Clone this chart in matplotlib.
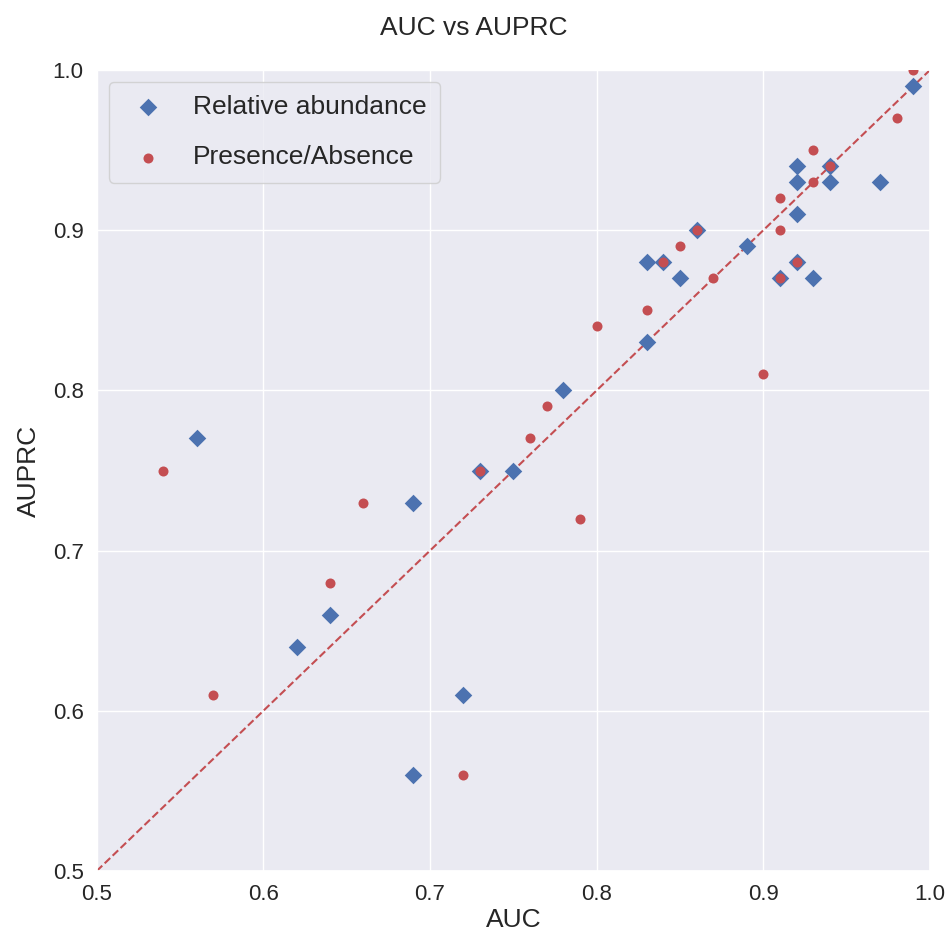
import matplotlib
matplotlib.use("Agg")
import matplotlib.pyplot as plt
import seaborn as sns

sns.set_theme(style="darkgrid")
plt.rcParams['font.family'] = ['Liberation Sans', 'DejaVu Sans']

# Relative abundance models
ra_auc = [0.56, 0.62, 0.64, 0.69, 0.69, 0.72, 0.73, 0.75, 0.78, 0.83,
          0.83, 0.84, 0.85, 0.86, 0.89, 0.91, 0.92, 0.92, 0.92, 0.92,
          0.93, 0.94, 0.94, 0.97, 0.99]
ra_auprc = [0.77, 0.64, 0.66, 0.73, 0.56, 0.61, 0.75, 0.75, 0.80, 0.88,
            0.83, 0.88, 0.87, 0.90, 0.89, 0.87, 0.94, 0.93, 0.91, 0.88,
            0.87, 0.94, 0.93, 0.93, 0.99]

# Presence/absence models
pa_auc = [0.54, 0.57, 0.64, 0.66, 0.72, 0.73, 0.76, 0.77, 0.79, 0.80,
          0.83, 0.84, 0.85, 0.86, 0.87, 0.90, 0.91, 0.91, 0.91, 0.92,
          0.93, 0.93, 0.94, 0.98, 0.99]
pa_auprc = [0.75, 0.61, 0.68, 0.73, 0.56, 0.75, 0.77, 0.79, 0.72, 0.84,
            0.85, 0.88, 0.89, 0.90, 0.87, 0.81, 0.92, 0.90, 0.87, 0.88,
            0.95, 0.93, 0.94, 0.97, 1.00]

blue = "#4C72B0"
red = "#C44E52"

fig = plt.figure(figsize=(9.48, 9.41), dpi=100)
ax = fig.add_axes([0.102, 0.0744, 0.879, 0.8512])

ax.scatter(ra_auc, ra_auprc, marker="D", s=80, color=blue,
           label="Relative abundance", zorder=3, linewidths=0)
ax.scatter(pa_auc, pa_auprc, marker="o", s=52, color=red,
           label="Presence/Absence", zorder=4, linewidths=0)
ax.plot([0.5, 1.0], [0.5, 1.0], linestyle="--", color=red, lw=1.5, zorder=2)

ax.set_xlim(0.5, 1.0)
ax.set_ylim(0.5, 1.0)
ax.set_xticks([0.5, 0.6, 0.7, 0.8, 0.9, 1.0])
ax.set_yticks([0.5, 0.6, 0.7, 0.8, 0.9, 1.0])
ax.tick_params(labelsize=16)
ax.set_xlabel("AUC", fontsize=19, labelpad=2)
ax.set_ylabel("AUPRC", fontsize=19, labelpad=8)
fig.suptitle("AUC vs AUPRC", fontsize=19, y=0.983)

ax.legend(loc="upper left", fontsize=19, markerscale=1.0,
          borderpad=0.5, labelspacing=1.0, handletextpad=0.7,
          borderaxespad=0.45, frameon=True)

fig.savefig("out.png", dpi=100)
